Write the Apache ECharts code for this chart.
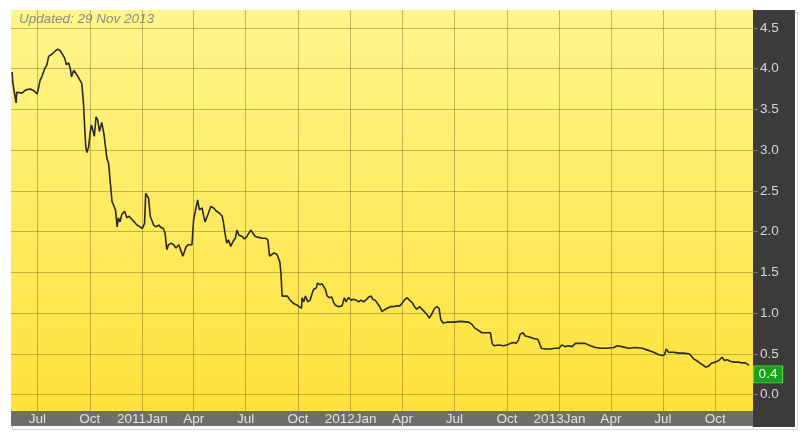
<!DOCTYPE html>
<html><head><meta charset="utf-8">
<script src="https://cdn.jsdelivr.net/npm/echarts@6/dist/echarts.min.js"></script>
<style>html,body{margin:0;padding:0;background:#fff}#c{width:805px;height:435px}</style>
</head><body><div id="c"></div>
<script>
const titleText = 'Updated: 29 Nov 2013';
const dates = [
'2010-05-18','2010-05-19','2010-05-22','2010-05-25','2010-05-26','2010-06-04','2010-06-07','2010-06-11','2010-06-19','2010-06-25',
'2010-06-27','2010-07-01','2010-07-06','2010-07-09','2010-07-14','2010-07-18','2010-07-21','2010-07-27','2010-08-02','2010-08-06',
'2010-08-10','2010-08-13','2010-08-18','2010-08-21','2010-08-25','2010-08-28','2010-08-30','2010-09-03','2010-09-07','2010-09-13',
'2010-09-17','2010-09-20','2010-09-22','2010-09-24','2010-09-26','2010-09-29','2010-10-02','2010-10-04','2010-10-07','2010-10-09',
'2010-10-12','2010-10-15','2010-10-18','2010-10-22','2010-10-26','2010-10-31','2010-11-03','2010-11-06','2010-11-09','2010-11-12',
'2010-11-15','2010-11-18','2010-11-20','2010-11-23','2010-11-26','2010-12-01','2010-12-05','2010-12-09','2010-12-14','2010-12-18',
'2010-12-23','2010-12-26','2010-12-28','2011-01-01','2011-01-05','2011-01-07','2011-01-10','2011-01-12','2011-01-15','2011-01-18',
'2011-01-21','2011-01-25','2011-01-30','2011-02-03','2011-02-07','2011-02-10','2011-02-13','2011-02-16','2011-02-21','2011-02-25',
'2011-03-01','2011-03-06','2011-03-09','2011-03-13','2011-03-16','2011-03-19','2011-03-23','2011-03-29','2011-04-01','2011-04-04',
'2011-04-08','2011-04-11','2011-04-16','2011-04-18','2011-04-21','2011-04-24','2011-04-27','2011-05-01','2011-05-06','2011-05-11',
'2011-05-16','2011-05-21','2011-05-23','2011-05-26','2011-05-29','2011-06-01','2011-06-05','2011-06-09','2011-06-13','2011-06-16',
'2011-06-19','2011-06-25','2011-06-29','2011-07-03','2011-07-06','2011-07-10','2011-07-14','2011-07-18','2011-07-24','2011-07-30',
'2011-08-05','2011-08-09','2011-08-12','2011-08-16','2011-08-20','2011-08-25','2011-08-30','2011-09-01','2011-09-03','2011-09-06',
'2011-09-12','2011-09-17','2011-09-23','2011-09-29','2011-10-02','2011-10-07','2011-10-08','2011-10-11','2011-10-14','2011-10-18',
'2011-10-22','2011-10-25','2011-10-28','2011-11-02','2011-11-04','2011-11-08','2011-11-12','2011-11-15','2011-11-18','2011-11-21',
'2011-11-25','2011-11-29','2011-12-02','2011-12-05','2011-12-11','2011-12-17','2011-12-21','2011-12-24','2011-12-28','2012-01-02',
'2012-01-06','2012-01-11','2012-01-15','2012-01-19','2012-01-24','2012-01-29','2012-02-02','2012-02-06','2012-02-09','2012-02-13',
'2012-02-17','2012-02-21','2012-02-25','2012-02-29','2012-03-05','2012-03-11','2012-03-16','2012-03-22','2012-03-27','2012-03-31',
'2012-04-04','2012-04-09','2012-04-13','2012-04-18','2012-04-22','2012-04-26','2012-05-01','2012-05-05','2012-05-09','2012-05-14',
'2012-05-18','2012-05-23','2012-05-27','2012-05-31','2012-06-04','2012-06-07','2012-06-11','2012-06-18','2012-06-30','2012-07-11',
'2012-07-26','2012-08-01','2012-08-05','2012-08-12','2012-08-18','2012-08-21','2012-08-27','2012-09-02','2012-09-05','2012-09-08',
'2012-09-16','2012-09-25','2012-10-01','2012-10-07','2012-10-13','2012-10-17','2012-10-21','2012-10-24','2012-10-29','2012-11-02',
'2012-11-08','2012-11-17','2012-11-24','2012-11-27','2012-11-30','2012-12-07','2012-12-16','2012-12-25','2012-12-31','2013-01-05',
'2013-01-11','2013-01-17','2013-01-23','2013-01-29','2013-02-03','2013-02-09','2013-02-15','2013-02-24','2013-03-05','2013-03-14',
'2013-03-25','2013-04-06','2013-04-12','2013-04-20','2013-05-02','2013-05-14','2013-05-26','2013-06-03','2013-06-15','2013-06-24',
'2013-06-30','2013-07-04','2013-07-07','2013-07-11','2013-07-20','2013-07-29','2013-08-07','2013-08-17','2013-08-24','2013-08-31',
'2013-09-08','2013-09-14','2013-09-19','2013-09-25','2013-10-01','2013-10-07','2013-10-13','2013-10-17','2013-10-22','2013-10-27',
'2013-11-03','2013-11-11','2013-11-17','2013-11-23','2013-11-29'
];
const prices = [
3.96,3.84,3.70,3.58,3.71,3.70,3.69,3.74,3.75,3.73,
3.75,3.69,3.86,3.90,4.00,4.05,4.15,4.18,4.22,4.24,
4.22,4.19,4.13,4.05,4.07,4.00,3.90,3.98,3.94,3.87,
3.82,3.58,3.29,3.04,2.97,3.04,3.23,3.31,3.29,3.17,
3.41,3.37,3.23,3.34,3.19,2.90,2.84,2.60,2.37,2.39,
2.27,2.06,2.17,2.12,2.21,2.25,2.17,2.19,2.15,2.12,
2.08,2.10,2.06,2.04,2.10,2.47,2.49,2.41,2.19,2.19,
2.08,2.06,2.08,2.05,2.04,1.98,1.78,1.84,1.86,1.84,
1.80,1.84,1.78,1.70,1.72,1.82,1.84,1.84,2.15,2.17,
2.39,2.27,2.29,2.21,2.12,2.10,2.23,2.31,2.29,2.25,
2.23,2.19,2.12,1.98,1.86,1.90,1.82,1.88,1.92,2.02,
1.96,1.94,1.91,1.94,1.96,2.02,1.98,1.94,1.93,1.92,
1.92,1.90,1.70,1.72,1.74,1.72,1.63,1.49,1.21,1.19,
1.21,1.16,1.12,1.10,1.08,1.06,1.19,1.14,1.21,1.14,
1.16,1.23,1.29,1.31,1.37,1.35,1.36,1.35,1.29,1.21,
1.19,1.20,1.14,1.10,1.08,1.09,1.19,1.14,1.19,1.16,
1.17,1.16,1.14,1.16,1.14,1.17,1.20,1.21,1.17,1.16,
1.12,1.08,1.02,1.04,1.06,1.08,1.08,1.09,1.09,1.12,
1.16,1.19,1.16,1.13,1.08,1.05,1.08,1.05,1.02,0.98,
0.94,1.00,1.06,1.08,1.06,0.92,0.88,0.89,0.89,0.90,
0.89,0.86,0.82,0.79,0.76,0.78,0.76,0.76,0.63,0.60,
0.61,0.60,0.61,0.63,0.64,0.63,0.67,0.74,0.76,0.72,
0.71,0.69,0.68,0.63,0.57,0.56,0.56,0.57,0.57,0.61,
0.59,0.60,0.59,0.63,0.63,0.63,0.63,0.60,0.58,0.57,
0.57,0.58,0.60,0.59,0.57,0.58,0.57,0.55,0.52,0.49,
0.48,0.49,0.56,0.52,0.52,0.51,0.51,0.50,0.44,0.41,
0.37,0.34,0.35,0.39,0.40,0.42,0.46,0.42,0.43,0.41,
0.40,0.40,0.39,0.39,0.36
];
const xTickDates = ['2010-07-01','2010-10-01','2011-01-01','2011-04-01','2011-07-01','2011-10-01','2012-01-01','2012-04-01','2012-07-01','2012-10-01','2013-01-01','2013-04-01','2013-07-01','2013-10-01'];
const xTickLabels = ['Jul','Oct','2011Jan','Apr','Jul','Oct','2012Jan','Apr','Jul','Oct','2013Jan','Apr','Jul','Oct'];
const yTicks = [0,0.5,1.0,1.5,2.0,2.5,3.0,3.5,4.0,4.5];
const xMin = '2010-05-16', xMax = '2013-12-06';
const yMin = -0.2, yMax = 4.72;
const lastLabel = '0.4';

const ts = s => { const p = s.split('-').map(Number); return Date.UTC(p[0], p[1]-1, p[2]); };
const xTickTs = xTickDates.map(ts);
const seriesData = dates.map((d,i) => [ts(d), prices[i]]);
const lastPt = seriesData[seriesData.length-1];

const chart = echarts.init(document.getElementById('c'), null, {renderer:'canvas'});
chart.setOption({
  animation: false,
  backgroundColor: '#ffffff',
  textStyle: {fontFamily: 'Liberation Sans, Arial, sans-serif'},
  title: {
    text: titleText, left: 14, top: 7,
    textStyle: {fontSize: 13.5, fontStyle: 'italic', fontWeight: 'normal', color: '#8c8c80', fontFamily: 'Liberation Sans, Arial, sans-serif'}
  },
  graphic: [
    {type:'rect', left: 753, top: 10, shape:{width: 42, height: 417}, style:{fill:'#3d3a3a'}, z: -1},
    {type:'rect', left: 11, top: 411, shape:{width: 742, height: 15}, style:{fill:'#6e6e6e'}, z: -1},
    {type:'rect', left: 10, top: 10, shape:{width: 785, height: 417}, style:{fill:'none', stroke:'#d8d8d8', lineWidth:1}, z: -2}
  ],
  grid: {
    left: 11, right: 52, top: 10, bottom: 24, show: true, borderWidth: 0,
    backgroundColor: new echarts.graphic.LinearGradient(0,0,0,1,[{offset:0,color:'#fef68c'},{offset:1,color:'#fee13a'}])
  },
  xAxis: {
    type: 'value', min: ts(xMin), max: ts(xMax),
    axisLine: {show: false},
    axisTick: {show: true, customValues: xTickTs, length: 0},
    splitLine: {show: true, lineStyle: {color: 'rgba(60,50,0,0.3)', width: 1}},
    axisLabel: {
      customValues: xTickTs, margin: 1, color: '#e2e2e2', fontSize: 13.5,
      formatter: v => { const i = xTickTs.indexOf(v); return i >= 0 ? xTickLabels[i] : ''; }
    }
  },
  yAxis: {
    type: 'value', position: 'right', min: yMin, max: yMax,
    axisLine: {show: false},
    axisTick: {show: true, customValues: yTicks, length: 5, lineStyle: {color: '#777'}},
    splitLine: {show: true, lineStyle: {color: 'rgba(60,50,0,0.3)', width: 1}},
    axisLabel: {customValues: yTicks, margin: 7, color: '#d8d8d8', fontSize: 13.5, formatter: v => v.toFixed(1)}
  },
  series: [{
    type: 'line', data: seriesData, showSymbol: false, symbol: 'none',
    lineStyle: {color: '#2a2a2a', width: 1.6},
    markPoint: {
      symbol: 'rect', symbolSize: [29, 17], symbolOffset: [19, 9], silent: true,
      itemStyle: {color: '#17a117', borderColor: '#5fcf5f', borderWidth: 1},
      label: {show: true, formatter: lastLabel, color: '#f0fff0', fontSize: 13.5, position: 'inside'},
      data: [{coord: lastPt}]
    }
  }]
});
</script></body></html>
